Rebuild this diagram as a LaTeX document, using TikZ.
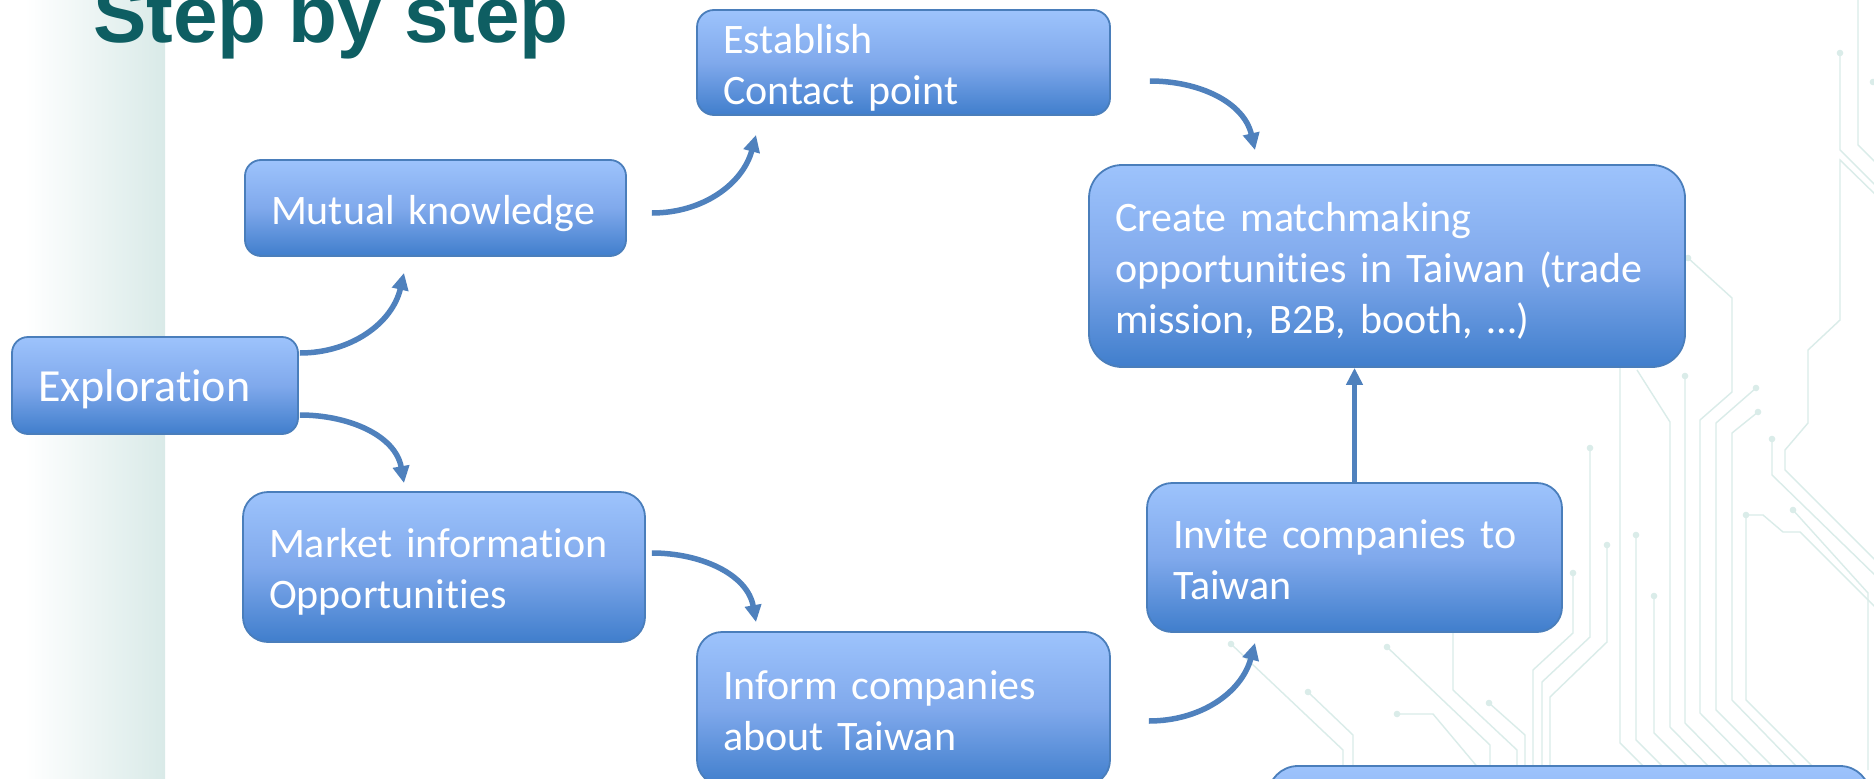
\documentclass[tikz,border=0pt]{standalone}
\usepackage{fontspec}
\setmainfont{Carlito}[Ligatures={NoCommon,NoDiscretionary}]
\newfontfamily\titlefont{Liberation Sans}
\usetikzlibrary{arrows.meta,calc}
\definecolor{boxtop}{RGB}{157,195,252}
\definecolor{boxmid}{RGB}{128,169,236}
\definecolor{boxbot}{RGB}{64,126,204}
\definecolor{boxline}{RGB}{74,126,187}
\definecolor{arrowc}{RGB}{79,129,189}
\definecolor{titlec}{RGB}{14,94,98}
\definecolor{bandc}{RGB}{217,234,232}
\definecolor{circ}{RGB}{218,236,233}
\newcommand\tsx{\rule{0pt}{43pt}}
\newcommand\bsx{\rule[-11pt]{0pt}{11pt}}
\newcommand\tsxe{\rule{0pt}{44pt}}
\newcommand\bsxe{\rule[-12pt]{0pt}{12pt}}
\begin{document}
\begin{tikzpicture}[x=1pt,y=1pt,
  stepbox/.style={draw=boxline, line width=1.8pt, top color=boxtop, bottom color=boxbot, middle color=boxmid,
    text=white, inner xsep=26pt, inner ysep=0pt, align=left, font=\fontsize{42}{51}\selectfont},
  flow/.style={draw=arrowc, line width=5.5pt, -{Triangle[length=17pt,width=16pt]}},
  trace/.style={draw=circ, line width=1.4pt},
  pad/.style={fill=circ}
]
\useasboundingbox (0,0) rectangle (1874,-779);
\clip (0,0) rectangle (1874,-779);
\fill[white] (0,0) rectangle (1874,-779);
% left band
\shade[left color=white, right color=bandc] (25,0) rectangle (165,-779);
% circuit background
\draw[trace] (1858,5) -- (1858,-145) -- (1880,-167);
\draw[trace] (1840,-53) -- (1840,-150) -- (1880,-190);
\draw[trace] (1880,-199) -- (1840,-160) -- (1840,-320) -- (1808,-350) -- (1808,-423) -- (1785,-450) -- (1785,-470) -- (1880,-565);
\draw[trace] (1620,-368) -- (1620,-743) -- (1647,-770);
\draw[trace] (1637,-370) -- (1670,-422) -- (1670,-727) -- (1712,-770);
\draw[trace] (1685,-376) -- (1685,-723) -- (1731,-770);
\draw[trace] (1688,-258) -- (1732,-298) -- (1732,-392) -- (1700,-420) -- (1700,-713) -- (1756,-770);
\draw[trace] (1756,-388) -- (1716,-423) -- (1716,-710) -- (1776,-770);
\draw[trace] (1758,-412) -- (1732,-433) -- (1732,-700) -- (1800,-770);
\draw[trace] (1746,-515) -- (1763,-515) -- (1783,-532) -- (1800,-532) -- (1880,-612);
\draw[trace] (1746,-515) -- (1746,-700) -- (1816,-770);
\draw[trace] (1772,-439) -- (1772,-475) -- (1880,-580);
\draw[trace] (1793,-510) -- (1868,-593) -- (1868,-770);
\draw[trace] (1231,-644) -- (1343,-750) -- (1343,-770);
\draw[trace] (1308,-692) -- (1353,-735) -- (1353,-770);
\draw[trace] (1387,-647) -- (1490,-745) -- (1490,-770);
\draw[trace] (1453,-633) -- (1453,-690) -- (1517,-750) -- (1517,-770);
\draw[trace] (1397,-714) -- (1433,-714) -- (1480,-770);
\draw[trace] (1489,-703) -- (1525,-735) -- (1525,-770);
\draw[trace] (1573,-573) -- (1573,-633) -- (1533,-670) -- (1533,-770);
\draw[trace] (1590,-448) -- (1590,-637) -- (1542,-682) -- (1542,-770);
\draw[trace] (1607,-545) -- (1607,-642) -- (1550,-697) -- (1550,-770);
\draw[trace] (1636,-535) -- (1636,-740) -- (1666,-770);
\draw[trace] (1654,-596) -- (1654,-733) -- (1691,-770);
\foreach \p in {(1840,-53),(1685,-376),(1688,-258),(1756,-388),(1758,-412),(1746,-515),(1772,-439),(1793,-510),
  (1231,-644),(1308,-692),(1387,-647),(1397,-714),(1489,-703),(1573,-573),(1590,-448),(1607,-545),(1636,-535),(1654,-596),(1873,-82)}
  \fill[pad] \p circle (3.3);
% title
\node[anchor=base west, text=titlec, inner sep=0pt, font=\titlefont\bfseries\fontsize{80}{92}\selectfont] (title) at (93,-42) {Step by step};
% boxes
\node[stepbox, minimum width=286pt, minimum height=97pt, text width=234pt, rounded corners=16pt, font=\fontsize{46}{55}\selectfont] (expl) at (155,-385.5) {\tsxe Exploration\bsxe};
\node[stepbox, minimum width=381pt, minimum height=96pt, text width=329pt, rounded corners=16pt] (mutual) at (435.5,-208) {\tsx\mbox{Mutual knowledge}\bsx};
\node[stepbox, minimum width=413pt, minimum height=105pt, text width=361pt, rounded corners=17pt] (establish) at (903.5,-62.5) {\tsx Establish\\Contact point\bsx};
\node[stepbox, minimum width=596pt, minimum height=202pt, text width=544pt, rounded corners=33pt] (create) at (1387,-266) {\tsx Create matchmaking\\\mbox{opportunities in Taiwan (trade}\\mission, B2B, booth, …)\bsx};
\node[stepbox, minimum width=402pt, minimum height=150pt, text width=350pt, rounded corners=25pt] (market) at (444,-567) {\tsx\mbox{Market information}\\Opportunities\bsx};
\node[stepbox, minimum width=413pt, minimum height=153pt, text width=361pt, rounded corners=25pt] (inform) at (903.5,-708.5) {\tsx Inform companies\\about Taiwan\bsx};
\node[stepbox, minimum width=415pt, minimum height=149pt, text width=363pt, rounded corners=25pt] (invite) at (1354.5,-557.5) {\tsx\mbox{Invite companies to}\\Taiwan\bsx};
\node[stepbox, minimum width=602pt, minimum height=180pt, rounded corners=30pt] (next) at (1569,-856) {};
% connectors
\draw[flow] ($(expl.east)+(1,32.5)$) to[out=0,in=-103] ($(mutual.south)+(-31.5,-16)$);
\draw[flow] ($(expl.east)+(1,-29.5)$) to[out=0,in=100] ($(market.north)+(-40,8)$);
\draw[flow] ($(mutual.east)+(25,-5)$) to[out=0,in=-105] ($(establish.south)+(-147.5,-19)$);
\draw[flow] ($(establish.east)+(39,-18.5)$) to[out=0,in=103] ($(create.north)+(-132,14)$);
\draw[flow] ($(market.east)+(6,14)$) to[out=0,in=100] ($(inform.north)+(-147.5,9)$);
\draw[flow] ($(inform.east)+(38,-12.5)$) to[out=0,in=-105] ($(invite.south)+(-99.5,-10)$);
\draw[flow] (invite.north) -- (invite.north |- create.south);
\end{tikzpicture}
\end{document}
